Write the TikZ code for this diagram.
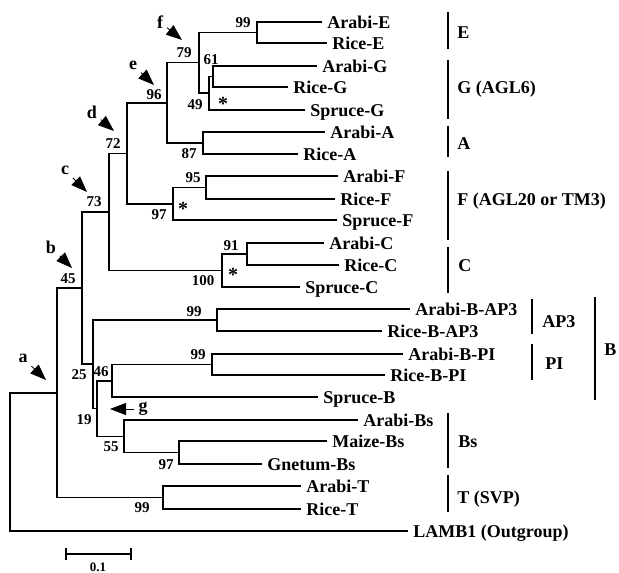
\documentclass[tikz,border=0pt]{standalone}
\usepackage{fontspec}
\setmainfont{Liberation Serif}
\usetikzlibrary{arrows.meta,positioning}

\begin{document}
\begin{tikzpicture}
[
  x=0.5pt, y=-0.5pt,
  branch/.style={line width=0.8pt},
  taxon/.style={anchor=west, inner xsep=2.5pt, inner ysep=0pt, text height=0.68em, text depth=0pt, font=\fontsize{9}{10}\selectfont\bfseries},
  boot/.style={inner sep=0pt, font=\fontsize{7.5}{8}\selectfont\bfseries},
  star/.style={inner sep=0pt, font=\fontsize{10}{10}\selectfont\bfseries},
  tag/.style={inner sep=1pt, font=\fontsize{9}{9}\selectfont\bfseries},
  pointer/.style={-{Triangle[length=8pt,width=6pt]}, line width=0.4pt, shorten <=1pt},
  cladebar/.style={line width=1.3pt},
  clade/.style={anchor=west, inner sep=0pt, text height=0.68em, text depth=0pt, font=\fontsize{9}{10}\selectfont\bfseries}
]
 \useasboundingbox (0,0) rectangle (619,572);

 % leaves
 \node[taxon] (arabiE) at (322,22) {Arabi-E};
 \node[taxon] (riceE) at (327,43) {Rice-E};
 \node[taxon] (arabiG) at (317,66) {Arabi-G};
 \node[taxon] (riceG) at (288,87) {Rice-G};
 \node[taxon] (spruceG) at (305,110) {Spruce-G};
 \node[taxon] (arabiA) at (325,132) {Arabi-A};
 \node[taxon] (riceA) at (298,154) {Rice-A};
 \node[taxon] (arabiF) at (338,176) {Arabi-F};
 \node[taxon] (riceF) at (335,199) {Rice-F};
 \node[taxon] (spruceF) at (337,220) {Spruce-F};
 \node[taxon] (arabiC) at (324,243) {Arabi-C};
 \node[taxon] (riceC) at (339,265) {Rice-C};
 \node[taxon] (spruceC) at (300,287) {Spruce-C};
 \node[taxon] (arabiBap) at (410,309) {Arabi-B-AP3};
 \node[taxon] (riceBap) at (382,331) {Rice-B-AP3};
 \node[taxon] (arabiBpi) at (403,354) {Arabi-B-PI};
 \node[taxon] (riceBpi) at (385,375) {Rice-B-PI};
 \node[taxon] (spruceB) at (318,397) {Spruce-B};
 \node[taxon] (arabiBs) at (358,420) {Arabi-Bs};
 \node[taxon] (maizeBs) at (327,441) {Maize-Bs};
 \node[taxon] (gnetumBs) at (262,464) {Gnetum-Bs};
 \node[taxon] (arabiT) at (301,486) {Arabi-T};
 \node[taxon] (riceT) at (301,509) {Rice-T};
 \node[taxon] (lamb) at (408,531) {LAMB1 (Outgroup)};

 % inner nodes
 \coordinate (nE) at (257,32.5);
 \coordinate (nG61) at (213,76.5);
 \coordinate (nG49) at (209,93);
 \coordinate (nf) at (199,62.5);
 \coordinate (nA) at (203,143);
 \coordinate (ne) at (167,103);
 \coordinate (nF95) at (206,187.5);
 \coordinate (nF97) at (173,204);
 \coordinate (nd) at (127,153.5);
 \coordinate (nC91) at (247,254);
 \coordinate (nC100) at (222,270.5);
 \coordinate (nc) at (109,212);
 \coordinate (nAP) at (217,320);
 \coordinate (nPI) at (212,364.5);
 \coordinate (n46) at (112,381);
 \coordinate (nBs97) at (179,452.5);
 \coordinate (n55) at (124,436.5);
 \coordinate (n19) at (97,408.5);
 \coordinate (n25) at (93,364);
 \coordinate (nb) at (82,288);
 \coordinate (nT) at (163,497.5);
 \coordinate (na) at (57,393);
 \coordinate (root) at (10,462);

 \draw[branch]
    (nE) |- (arabiE.west) (nE) |- (riceE.west)
    (nG61) |- (arabiG.west) (nG61) |- (riceG.west)
    (nG49) |- (nG61) (nG49) |- (spruceG.west)
    (nf) |- (nE) (nf) |- (nG49)
    (nA) |- (arabiA.west) (nA) |- (riceA.west)
    (ne) |- (nf) (ne) |- (nA)
    (nF95) |- (arabiF.west) (nF95) |- (riceF.west)
    (nF97) |- (nF95) (nF97) |- (spruceF.west)
    (nd) |- (ne) (nd) |- (nF97)
    (nC91) |- (arabiC.west) (nC91) |- (riceC.west)
    (nC100) |- (nC91) (nC100) |- (spruceC.west)
    (nc) |- (nd) (nc) |- (nC100)
    (nAP) |- (arabiBap.west) (nAP) |- (riceBap.west)
    (nPI) |- (arabiBpi.west) (nPI) |- (riceBpi.west)
    (n46) |- (nPI) (n46) |- (spruceB.west)
    (nBs97) |- (maizeBs.west) (nBs97) |- (gnetumBs.west)
    (n55) |- (arabiBs.west) (n55) |- (nBs97)
    (n19) |- (n46) (n19) |- (n55)
    (n25) |- (nAP) (n25) |- (n19)
    (nb) |- (nc) (nb) |- (n25)
    (nT) |- (arabiT.west) (nT) |- (riceT.west)
    (na) |- (nb) (na) |- (nT)
    (root) |- (na) (root) |- (lamb.west);

 % bootstrap values
 \node[boot] (bE) at (243,23) {99};
 \node[boot] (bf) at (184,53) {79};
 \node[boot] (bG61) at (211,60) {61};
 \node[boot] (bG49) at (195,105) {49};
 \node[star] (sG) at (223,104) {*};
 \node[boot] (be) at (154,95) {96};
 \node[boot] (bA) at (189,154) {87};
 \node[boot] (bd) at (113,144) {72};
 \node[boot] (bF95) at (193,178) {95};
 \node[star] (sF) at (183,209) {*};
 \node[boot] (bF97) at (159,215) {97};
 \node[boot] (bc) at (94,202) {73};
 \node[boot] (bC91) at (231,246) {91};
 \node[star] (sC) at (233,275) {*};
 \node[boot] (bC100) at (203,281) {100};
 \node[boot] (bb) at (68,279) {45};
 \node[boot] (bAP) at (194,312) {99};
 \node[boot] (bPI) at (198,355) {99};
 \node[boot] (b25) at (79,375) {25};
 \node[boot] (b46) at (101,372) {46};
 \node[boot] (b19) at (84,420) {19};
 \node[boot] (b55) at (111,447) {55};
 \node[boot] (bBs) at (166,465) {97};
 \node[boot] (bT) at (142,508) {99};

 % pointers a--g
 \node[tag] (la) at (23,358) {a};
 \node[tag] (lb) at (51,247) {b};
 \node[tag] (lc) at (65,170) {c};
 \node[tag] (ld) at (92,112) {d};
 \node[tag] (le) at (133,65) {e};
 \node[tag] (lf) at (160,22) {f};
 \node[tag] (lg) at (143,409) {g};
 \coordinate (ta) at (46,380);
 \coordinate (tb) at (72,268);
 \coordinate (tc) at (87,192);
 \coordinate (td) at (114,131);
 \coordinate (te) at (154,85);
 \coordinate (tf) at (182,40);
 \coordinate (tg) at (110,409);
 \draw[pointer] (la) -- (ta);
 \draw[pointer] (lb) -- (tb);
 \draw[pointer] (lc) -- (tc);
 \draw[pointer] (ld) -- (td);
 \draw[pointer] (le) -- (te);
 \draw[pointer] (lf) -- (tf);
 \draw[pointer] (lg) -- (tg);

 % clades
 \draw[cladebar] (448,12) -- (448,49);
 \draw[cladebar] (448,60) -- (448,119);
 \draw[cladebar] (448,126) -- (448,157);
 \draw[cladebar] (448,171) -- (448,240);
 \draw[cladebar] (448,247) -- (448,293);
 \draw[cladebar] (532,299) -- (532,334);
 \draw[cladebar] (532,344) -- (532,380);
 \draw[cladebar] (595,297) -- (595,400);
 \draw[cladebar] (448,413) -- (448,468);
 \draw[cladebar] (448,475) -- (448,512);
 \node[clade] (cE) at (457,32) {E};
 \node[clade] (cG) at (457,87) {G (AGL6)};
 \node[clade] (cA) at (457,143) {A};
 \node[clade] (cF) at (457,199) {F (AGL20 or TM3)};
 \node[clade] (cC) at (458,265) {C};
 \node[clade] (cAP) at (542,321) {AP3};
 \node[clade] (cPI) at (545,363) {PI};
 \node[clade] (cB) at (604,349) {B};
 \node[clade] (cBs) at (458,441) {Bs};
 \node[clade] (cT) at (457,497) {T (SVP)};

 % scale bar
 \coordinate (s0) at (66,554);
 \coordinate (s1) at (131,554);
 \draw[line width=0.9pt] (s0) -- (s1);
 \draw[line width=0.9pt] ([yshift=3pt]s0) -- ([yshift=-3pt]s0) ([yshift=3pt]s1) -- ([yshift=-3pt]s1);
 \node[boot, font=\fontsize{6.5}{7}\selectfont\bfseries] (scale) at (98,567) {0.1};
\end{tikzpicture}
\end{document}
